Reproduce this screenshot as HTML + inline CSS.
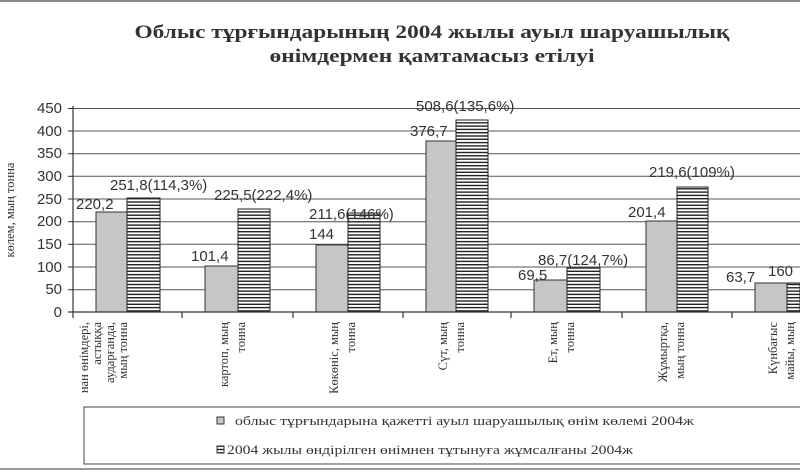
<!DOCTYPE html><html><head><meta charset="utf-8"><style>body{margin:0;background:#fff}svg{display:block}</style></head><body>
<svg width="800" height="472" xmlns="http://www.w3.org/2000/svg">
<defs><pattern id="h" width="4" height="3.3" patternUnits="userSpaceOnUse"><rect width="4" height="3.3" fill="#fff"/><rect width="4" height="1.4" fill="#222"/></pattern></defs>
<rect x="0" y="0" width="800" height="2" fill="#888"/>
<rect x="0" y="468" width="800" height="2" fill="#999"/>
<g font-family="Liberation Serif, serif" font-weight="bold" font-size="19" fill="#333" text-anchor="middle">
<text x="432" y="38" textLength="595" lengthAdjust="spacingAndGlyphs">Облыс тұрғындарының 2004 жылы ауыл шаруашылық</text>
<text x="432" y="62" textLength="325" lengthAdjust="spacingAndGlyphs">өнімдермен қамтамасыз етілуі</text></g>
<g stroke="#555" stroke-width="1">
<line x1="73" x2="800" y1="108.5" y2="108.5"/><line x1="73" x2="800" y1="131" y2="131"/><line x1="73" x2="800" y1="153.7" y2="153.7"/><line x1="73" x2="800" y1="176.3" y2="176.3"/><line x1="73" x2="800" y1="199" y2="199"/><line x1="73" x2="800" y1="221.7" y2="221.7"/><line x1="73" x2="800" y1="244.3" y2="244.3"/><line x1="73" x2="800" y1="267" y2="267"/><line x1="73" x2="800" y1="289.7" y2="289.7"/>
</g>
<g fill="#c6c6c6" stroke="#333" stroke-width="1">
<rect x="96" y="212" width="31" height="100"/><rect x="205" y="266" width="33" height="46"/><rect x="316" y="245" width="32" height="67"/><rect x="426" y="141" width="30" height="171"/><rect x="534" y="280" width="33" height="32"/><rect x="646" y="221" width="31" height="91"/><rect x="755" y="283" width="32" height="29"/></g>
<g fill="url(#h)" stroke="#222" stroke-width="1">
<rect x="127" y="198" width="33" height="114"/><rect x="238" y="209" width="32" height="103"/><rect x="348" y="213" width="32" height="99"/><rect x="456" y="120" width="32" height="192"/><rect x="567" y="268" width="33" height="44"/><rect x="677" y="187" width="31" height="125"/><rect x="787" y="283" width="13" height="29"/></g>
<g stroke="#333" stroke-width="1.2"><line x1="73" y1="106" x2="73" y2="318"/><line x1="68" y1="312" x2="800" y2="312"/>
<line x1="182" y1="312" x2="182" y2="318"/><line x1="293" y1="312" x2="293" y2="318"/><line x1="403" y1="312" x2="403" y2="318"/><line x1="511" y1="312" x2="511" y2="318"/><line x1="622" y1="312" x2="622" y2="318"/><line x1="732" y1="312" x2="732" y2="318"/>
<g stroke-width="1"><line x1="68" y1="108.5" x2="73" y2="108.5"/><line x1="68" y1="131" x2="73" y2="131"/><line x1="68" y1="153.7" x2="73" y2="153.7"/><line x1="68" y1="176.3" x2="73" y2="176.3"/><line x1="68" y1="199" x2="73" y2="199"/><line x1="68" y1="221.7" x2="73" y2="221.7"/><line x1="68" y1="244.3" x2="73" y2="244.3"/><line x1="68" y1="267" x2="73" y2="267"/><line x1="68" y1="289.7" x2="73" y2="289.7"/></g></g>
<g font-family="Liberation Sans, sans-serif" font-size="15" fill="#333" text-anchor="end">
<text x="62" y="113">450</text><text x="62" y="136">400</text><text x="62" y="158">350</text><text x="62" y="181">300</text><text x="62" y="204">250</text><text x="62" y="226">200</text><text x="62" y="249">150</text><text x="62" y="272">100</text><text x="62" y="294">50</text><text x="62" y="317">0</text></g>
<text transform="translate(14,210) rotate(-90)" font-family="Liberation Serif, serif" font-size="12.5" fill="#333" text-anchor="middle">көлем, мың тонна</text>
<g font-family="Liberation Sans, sans-serif" font-size="15" fill="#333">
<text x="76" y="209">220,2</text><text x="110" y="190">251,8(114,3%)</text><text x="214" y="200">225,5(222,4%)</text><text x="191" y="261">101,4</text>
<text x="309" y="219">211,6(146%)</text><text x="309" y="239">144</text><text x="410" y="136">376,7</text><text x="416" y="111">508,6(135,6%)</text>
<text x="518" y="280">69,5</text><text x="538" y="265">86,7(124,7%)</text><text x="628" y="217">201,4</text><text x="649" y="177">219,6(109%)</text>
<text x="726" y="282">63,7</text><text x="768" y="276">160</text></g>
<g font-family="Liberation Serif, serif" font-size="12.5" fill="#333" text-anchor="end">
<text transform="translate(88,322) rotate(-90)">нан өнімдері,</text><text transform="translate(101,322) rotate(-90)">астыққа</text><text transform="translate(114,322) rotate(-90)">аударғанда,</text><text transform="translate(127,322) rotate(-90)">мың тонна</text>
<text transform="translate(228,322) rotate(-90)">картоп, мың</text><text transform="translate(245,322) rotate(-90)">тонна</text>
<text transform="translate(338,322) rotate(-90)">Көкөніс, мың</text><text transform="translate(355,322) rotate(-90)">тонна</text>
<text transform="translate(447,322) rotate(-90)">Сүт, мың</text><text transform="translate(464,322) rotate(-90)">тонна</text>
<text transform="translate(557,322) rotate(-90)">Ет, мың</text><text transform="translate(574,322) rotate(-90)">тонна</text>
<text transform="translate(667,322) rotate(-90)">Жұмыртқа,</text><text transform="translate(684,322) rotate(-90)">мың тонна</text>
<text transform="translate(777,322) rotate(-90)">Күнбағыс</text><text transform="translate(794,322) rotate(-90)">майы, мың</text></g>
<rect x="84" y="407" width="730" height="57" fill="#fff" stroke="#444" stroke-width="1"/>
<rect x="217" y="417" width="7" height="7" fill="#c6c6c6" stroke="#333"/>
<rect x="217" y="446" width="7" height="7" fill="url(#h)" stroke="#333"/>
<g font-family="Liberation Serif, serif" font-size="13" fill="#333">
<text x="235" y="425" textLength="459" lengthAdjust="spacingAndGlyphs">облыс тұрғындарына қажетті ауыл шаруашылық өнім көлемі 2004ж</text>
<text x="227" y="454" textLength="406" lengthAdjust="spacingAndGlyphs">2004 жылы өндірілген өнімнен тұтынуға жұмсалғаны 2004ж</text></g>
</svg></body></html>
